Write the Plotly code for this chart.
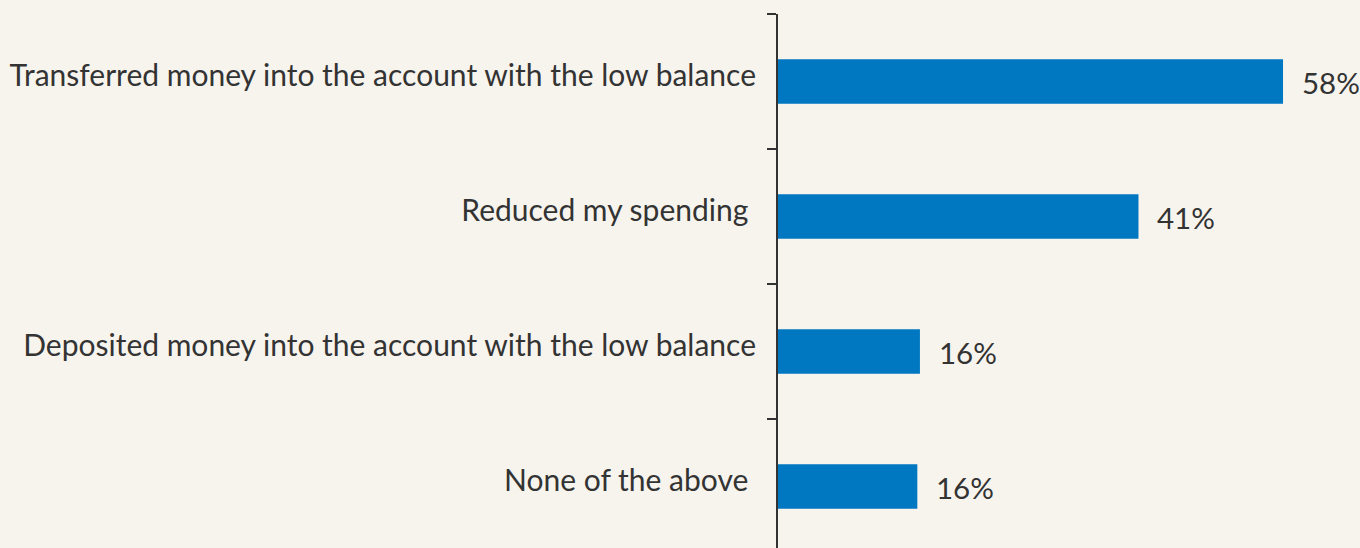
import plotly.graph_objects as go

categories = [
    "Transferred money into the account with the low balance",
    "Reduced my spending\u00a0",
    "Deposited money into the account with the low balance",
    "None of the above\u00a0",
]
values = [58.0, 41.4, 16.3, 16.0]

FONT = "Lato, Liberation Sans, sans-serif"
TEXT = "#333333"
SIZE = 29.5

fig = go.Figure(
    go.Bar(
        x=values,
        y=categories,
        orientation="h",
        width=0.33,
        marker=dict(color="#0077C1", line=dict(width=0)),
        hoverinfo="skip",
    )
)

for c, v in zip(categories, values):
    fig.add_annotation(
        x=v, y=c, text=f"{v:.0f}%", showarrow=False,
        xanchor="left", yanchor="middle", xshift=17, yshift=-1,
        font=dict(family=FONT, size=SIZE, color=TEXT),
    )

fig.update_layout(
    width=1360, height=548,
    margin=dict(l=778, r=0, t=14, b=0, autoexpand=False),
    paper_bgcolor="#F7F4EE",
    plot_bgcolor="#F7F4EE",
    showlegend=False,
    font=dict(family=FONT, size=SIZE, color=TEXT),
    xaxis=dict(range=[0, 66.84], visible=False, fixedrange=True),
    yaxis=dict(
        type="category",
        categoryorder="array",
        categoryarray=categories,
        range=[3.456, -0.5],
        showline=True, linecolor="#333333", linewidth=2,
        ticks="outside", tickson="boundaries", ticklen=9,
        tickwidth=2, tickcolor="#333333",
        showgrid=False, zeroline=False,
        ticklabelstandoff=14,
        ticklabelshift=6,
        tickfont=dict(family=FONT, size=30, color=TEXT),
    ),
)

fig.write_html(
    "out.html",
    config={"displayModeBar": False},
    post_script="document.body.style.margin='0';document.body.style.background='#F7F4EE';",
)
